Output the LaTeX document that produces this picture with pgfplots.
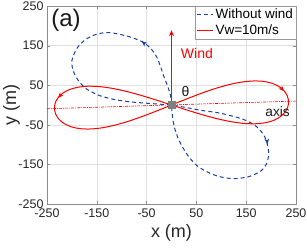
\documentclass[border=0pt]{standalone}
\usepackage{fontspec}
\setmainfont{Liberation Sans}
\usepackage{pgfplots}
\pgfplotsset{compat=1.18}
\usetikzlibrary{arrows.meta}
\definecolor{mblue}{rgb}{0.09,0.25,0.65}
\definecolor{axgray}{gray}{0.55}
\definecolor{mgray}{gray}{0.5}
\begin{document}
\begin{tikzpicture}
\path[use as bounding box] (-47pt,-45pt) rectangle (260pt,204pt);
\begin{axis}[
 at={(0pt,0pt)}, anchor=south west,
 scale only axis, width=249pt, height=198pt,
 xmin=-250,xmax=250,ymin=-250,ymax=250,
 xtick={-250,-150,-50,50,150,250},
 ytick={-250,-150,-50,50,150,250},
 grid=major, grid style={black!12, line width=0.4pt},
 axis line style={axgray, line width=0.6pt},
 tick style={axgray},
 tick align=inside, major tick length=3pt,
 ticklabel style={font=\fontsize{12.5}{13}\selectfont, text=black!85},
 xticklabel style={yshift=-1.5pt},
 /pgf/number format/assume math mode=true,
 xlabel={x (m)}, ylabel={y (m)},
 every axis x label/.style={at={(axis description cs:0.5,0)}, yshift=-29pt, anchor=center},
 every axis y label/.style={at={(axis description cs:0,0.5)}, xshift=-35.5pt, rotate=90, anchor=center},
 label style={font=\fontsize{18}{20}\selectfont, text=black!85},
 legend style={at={(1,1)}, anchor=north east, draw=black!40, fill=white,
   font=\fontsize{13.5}{15}\selectfont, inner xsep=1pt, inner ysep=1pt,
   row sep=0pt, cells={anchor=west}},
 legend image code/.code={\draw[#1] (0pt,0pt) -- (16pt,0pt);},
]
% Without wind
\addplot[mblue, line width=1pt, dash pattern=on 4pt off 3pt, smooth] coordinates {
(0,0) (-1.5,21) (-7,45) (-15,71) (-22,97) (-30,122) (-42,143) (-59,160)
(-89,174) (-126,183) (-152,178) (-173,165) (-190,143) (-200,112) (-197,85)
(-186,60) (-170,40) (-145,24) (-115,14) (-83,8) (-50,4.5) (-23,2) (0,0)
(28,-6) (57,-13) (95,-20) (131,-31) (155,-42) (172,-56) (185,-75) (192,-97)
(195,-120) (192,-145) (180,-166) (155,-181) (124,-186) (97,-181) (75,-171)
(53,-155) (36,-133) (23,-108) (13,-83) (6,-57) (2,-30) (0,0)
};
\addlegendentry{Without wind}
% Vw=10m/s
\addplot[red, line width=1pt, smooth] coordinates {
(0,0) (30.1,15.2) (59.7,29.4) (88.4,41.8) (115.6,51.5) (141.0,57.9) (164.0,60.6)
(184.3,59.7) (201.6,54.9) (215.6,46.9) (225.9,36.1) (232.4,23.3) (235,9.4)
(233.6,-4.7) (228.1,-17.9) (218.6,-29.5) (205.4,-38.7) (188.5,-44.7) (168.4,-47.4)
(145.2,-46.5) (119.4,-42.1) (91.4,-34.6) (61.9,-24.6) (31.3,-12.8) (0,0)
(-31.3,12.8) (-61.9,24.6) (-91.4,34.6) (-119.4,42.1) (-145.2,46.5) (-168.4,47.4)
(-188.5,44.7) (-205.4,38.7) (-218.6,29.5) (-228.1,17.9) (-233.6,4.7) (-235,-9.4)
(-232.4,-23.3) (-225.9,-36.1) (-215.6,-46.9) (-201.6,-54.9) (-184.3,-59.7)
(-164.0,-60.6) (-141.0,-57.9) (-115.6,-51.5) (-88.4,-41.8) (-59.7,-29.4)
(-30.1,-15.2) (0,0)
};
\addlegendentry{Vw=10m/s}
% axis line (dash-dot)
\addplot[red, line width=0.6pt, dash pattern=on 3pt off 1pt on 1pt off 1pt, forget plot] coordinates {(-250,-9.5) (250,10)};
% wind arrow
\addplot[red, line width=0.8pt, -{Stealth[length=6pt,width=5pt]}, forget plot] coordinates {(0,0) (0,189)};
% arrowheads on blue
\addplot[mblue, line width=0.8pt, -{Stealth[length=5.5pt,width=4.5pt,inset=1.5pt]}, forget plot] coordinates {(-57,158) (-60,161)};
\addplot[mblue, line width=0.8pt, -{Stealth[length=5.5pt,width=4.5pt,inset=1.5pt]}, forget plot] coordinates {(192.5,-95) (193,-99)};
% arrowheads on red
\addplot[red, line width=0.8pt, -{Stealth[length=5.5pt,width=4.5pt,inset=1.5pt]}, forget plot] coordinates {(-225,22) (-228,18)};
\addplot[red, line width=0.8pt, -{Stealth[length=5.5pt,width=4.5pt,inset=1.5pt]}, forget plot] coordinates {(223,39) (226,35)};
% centre marker
\addplot[only marks, mark=square*, mark size=3.6pt, mark options={fill=mgray, draw=mgray}, forget plot] coordinates {(0,0)};
\node[font=\fontsize{24}{26}\selectfont, text=black!90] at (axis cs:-212,215) {(a)};
\node[font=\fontsize{14}{15}\selectfont, text=black!90] at (axis cs:28,34) {θ};
\node[font=\fontsize{14}{15}\selectfont, text=red] at (axis cs:51,131) {Wind};
\node[font=\fontsize{13.7}{15}\selectfont, text=black!90] at (axis cs:213,-17) {axis};
\end{axis}
\end{tikzpicture}
\end{document}
